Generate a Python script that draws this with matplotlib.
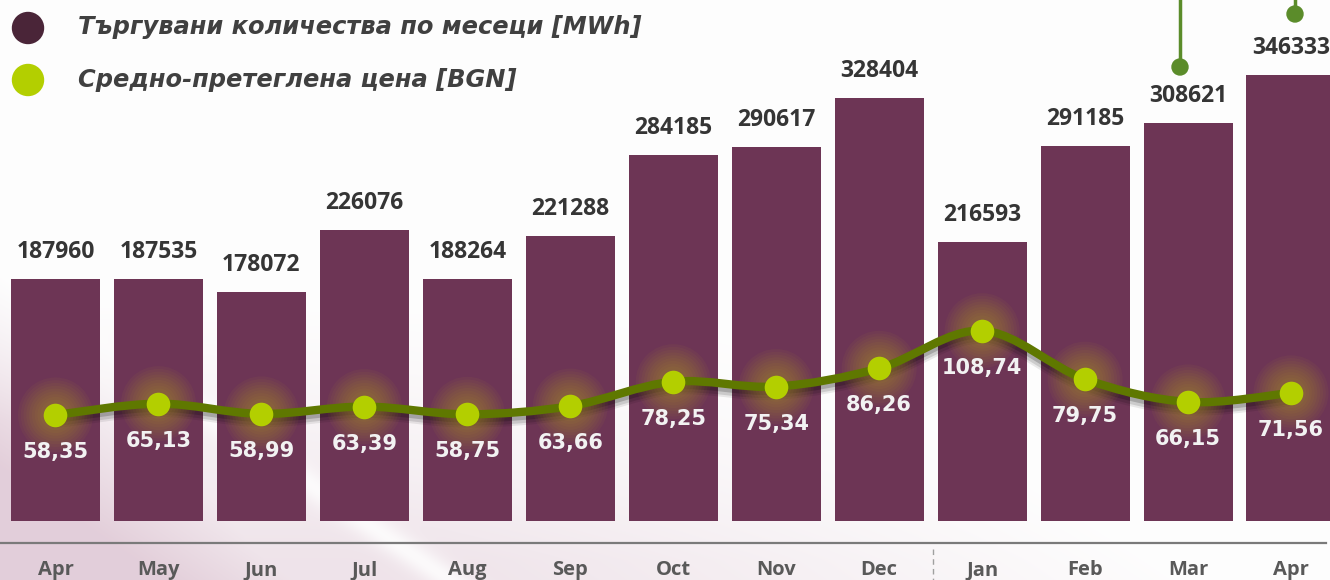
import numpy as np
import matplotlib
matplotlib.use('Agg')
import matplotlib.pyplot as plt
from matplotlib.path import Path
from matplotlib.patches import PathPatch, Circle, Arc, Ellipse
from matplotlib import transforms

months = ['Apr', 'May', 'Jun', 'Jul', 'Aug', 'Sep', 'Oct', 'Nov', 'Dec',
          'Jan', 'Feb', 'Mar', 'Apr']
volumes = [187960, 187535, 178072, 226076, 188264, 221288, 284185,
           290617, 328404, 216593, 291185, 308621, 346333]
prices = [58.35, 65.13, 58.99, 63.39, 58.75, 63.66, 78.25,
          75.34, 86.26, 108.74, 79.75, 66.15, 71.56]
price_labels = ['58,35', '65,13', '58,99', '63,39', '58,75', '63,66', '78,25',
                '75,34', '86,26', '108,74', '79,75', '66,15', '71,56']
legend_labels = ['Търгувани количества по месеци [MWh]',
                 'Средно-претеглена цена [BGN]']

W, H = 1330, 580
BAR_COLOR = '#6d3555'
LINE_COLOR = '#5f7800'
DOT_COLOR = '#b3cf00'
DECO_GREEN = '#5b8c2a'

fig = plt.figure(figsize=(W / 100, H / 100), dpi=100)

# background tint (pink lower-left with a light diagonal streak)
bg = fig.add_axes([0, 0, 1, 1], zorder=0)
yy, xx = np.mgrid[0:H, 0:W].astype(float)
d = (xx - 100) * -0.566 + (yy - 340) * 0.825
left = np.clip(d / 160, 0, 1) * np.clip((yy - 120) / 300, 0, 1)
right = 0.55 * np.clip(1 + d / 420, 0, 1) * np.clip((yy - 300) / 260, 0, 1)
tint = np.where(d > 0, np.maximum(left, 0.55 * np.clip((yy - 300) / 260, 0, 1)), right)
tint *= 1 - 0.85 * np.exp(-(d / 14) ** 2) * np.clip((yy - 300) / 100, 0, 1)
tint = np.clip(tint, 0, 1)
white = np.array([0.995, 0.995, 0.995])
pink = np.array([0.89, 0.81, 0.855])
img = white[None, None, :] * (1 - tint[..., None]) + pink[None, None, :] * tint[..., None]
bg.imshow(img, extent=(0, W, H, 0), aspect='auto', interpolation='bilinear')
bg.set_xlim(0, W)
bg.set_ylim(H, 0)
bg.axis('off')

# bars
ax = fig.add_axes([0, 0, 1, 1], zorder=1)
ax.patch.set_visible(False)
step = 102.96
x0 = 55.5
ax.set_xlim(-x0 / step, (W - x0) / step)
k = 776.4
base = 521
ax.set_ylim(-(H - base) * k, base * k)
x = np.arange(len(months))
ax.bar(x, volumes, width=0.865, color=BAR_COLOR, zorder=2)
for xi, v in zip(x, volumes):
    ax.annotate(str(v), (xi, v), xytext=(0, 27), textcoords='offset pixels',
                ha='center', va='center', fontsize=16.5, fontweight='bold',
                family='Open Sans', color='#353535')
ax.axis('off')

# price line on a twin scale
ax2 = ax.twinx()
ax2.set_zorder(2)
ax2.patch.set_visible(False)
pk = 1.673
pz = 512.6
ax2.set_ylim(-(H - pz) / pk, pz / pk)
ax2.axis('off')

n = len(prices)
verts = [(x[0], prices[0])]
codes = [Path.MOVETO]
for i in range(n - 1):
    a = max(i - 1, 0)
    b = min(i + 2, n - 1)
    c1 = (x[i] + (x[i + 1] - x[a]) / 6, prices[i] + (prices[i + 1] - prices[a]) / 6)
    c2 = (x[i + 1] - (x[b] - x[i]) / 6, prices[i + 1] - (prices[b] - prices[i]) / 6)
    verts += [c1, c2, (x[i + 1], prices[i + 1])]
    codes += [Path.CURVE4] * 3
curve = Path(verts, codes)

for off, lw, al in [(5, 12, 0.08), (5, 9, 0.12), (4, 6, 0.18)]:
    tr = transforms.offset_copy(ax2.transData, fig=fig, x=0, y=-off, units='dots')
    ax2.add_patch(PathPatch(curve, fill=False, edgecolor='black', lw=lw,
                            alpha=al, transform=tr, capstyle='round', zorder=3))

for size in np.linspace(54, 22, 9):
    ax2.scatter(x, prices, s=size ** 2, color='#b8a820', alpha=0.055,
                edgecolors='none', zorder=3)

ax2.add_patch(PathPatch(curve, fill=False, edgecolor=LINE_COLOR, lw=6,
                        capstyle='round', zorder=4))
ax2.plot(x, prices, 'o', ms=17, color=DOT_COLOR, mec='none', zorder=5)
for xi, p, lab in zip(x, prices, price_labels):
    ax2.annotate(lab, (xi, p), xytext=(0, -37), textcoords='offset pixels',
                 ha='center', va='center', fontsize=15, fontweight='bold',
                 family='DejaVu Sans', color='#f2f2f2', zorder=6)

# overlay: axis line, month labels, legend, decorations (pixel coords)
ov = fig.add_axes([0, 0, 1, 1], zorder=3)
ov.patch.set_visible(False)
ov.set_xlim(0, W)
ov.set_ylim(H, 0)
ov.axis('off')
ov.plot([0, 1326], [543, 543], color='#7a7a7a', lw=1.6)
ov.plot([933, 933], [549, 580], color='#a0a0a0', lw=1, ls=(0, (4, 3)))
for xi, m in zip(x, months):
    ov.text(x0 + xi * step, 570, m, ha='center', va='center', fontsize=14.5,
            fontweight='bold', family='Open Sans', color='#595959')

ov.add_patch(Ellipse((28, 28), 31, 31, color='#4a2538'))
ov.add_patch(Ellipse((28, 80), 31, 31, color=DOT_COLOR))
for yl, lab in zip([27, 80], legend_labels):
    ov.text(78, yl, lab, ha='left', va='center', fontsize=17.4, fontweight='bold',
            style='italic', family='DejaVu Sans', color='#404040')

ov.plot([1180, 1180], [0, 67], color=DECO_GREEN, lw=2.5)
ov.add_patch(Circle((1180, 67), 8, color=DECO_GREEN))
ov.plot([1295, 1295], [0, 14], color=DECO_GREEN, lw=2.5)
ov.add_patch(Circle((1295, 14), 8, color=DECO_GREEN))
ov.add_patch(Arc((1240, -40), 92, 92, theta1=200, theta2=340,
                 color=DECO_GREEN, lw=3.5))

fig.savefig('out.png', dpi=100)
